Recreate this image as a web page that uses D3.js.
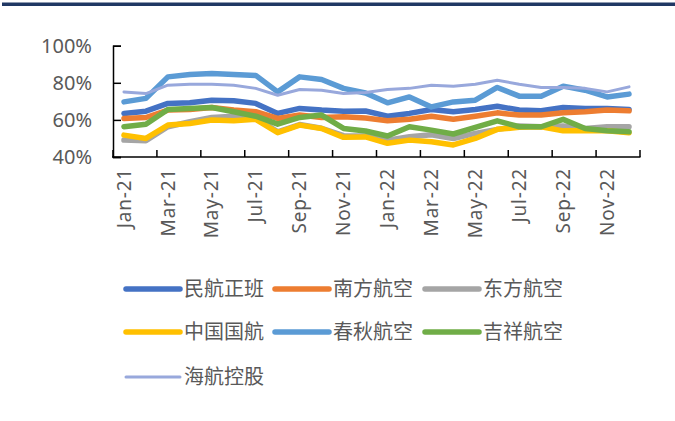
<!DOCTYPE html>
<html>
<head>
<meta charset="utf-8">
<script src="https://cdn.jsdelivr.net/npm/d3@7"></script>
<style>
  body { margin: 0; background: #fff; }
  svg { display: block; }
</style>
</head>
<body>
<div id="chart"></div>
<script>
// months shown on the x axis (every other one gets a label)
const months = ["Jan-21","Feb-21","Mar-21","Apr-21","May-21","Jun-21","Jul-21","Aug-21","Sep-21","Oct-21","Nov-21","Dec-21",
                "Jan-22","Feb-22","Mar-22","Apr-22","May-22","Jun-22","Jul-22","Aug-22","Sep-22","Oct-22","Nov-22","Dec-22"];
const yTicks = [40, 60, 80, 100];

// load factor, %
const minhang  = [63.5,64.7,68.9,69.2,70.6,70.3,68.9,63.5,66.2,65.3,64.7,64.8, 62.0,63.5,65.6,64.4,65.6,67.4,65.3,64.9,66.7,66.2,66.2,65.6];
const nanfang  = [60.8,61.3,65.3,65.6,66.7,65.3,64.4,60.8,62.6,61.3,61.7,61.0, 59.5,60.3,62.0,60.3,62.0,63.8,62.6,62.6,63.8,64.4,65.3,64.9];
const dongfang = [49.1,48.8,56.3,59.0,61.3,62.0,61.3,53.6,57.5,55.5,51.5,51.3, 49.1,50.9,52.0,50.0,52.7,54.9,56.7,56.3,56.7,55.4,56.3,56.3];
const guohang  = [51.8,50.0,57.2,58.1,59.9,59.5,60.3,53.1,57.2,55.4,50.6,50.8, 47.4,49.1,48.2,46.5,50.0,54.9,56.0,56.3,54.1,54.1,54.1,53.1];
const chunqiu  = [69.7,71.6,83.2,84.5,85.0,84.5,84.0,75.1,83.2,81.8,77.0,74.5, 69.2,72.4,67.0,69.7,70.6,77.5,72.8,72.8,78.2,76.0,72.4,73.9];
const jixiang  = [56.3,57.7,65.6,66.2,66.7,64.4,62.0,57.7,61.3,62.6,55.4,54.0, 51.3,56.3,54.5,52.4,56.0,59.5,56.3,56.3,60.3,55.4,54.1,53.6];
const hainan   = [75.1,74.2,78.7,79.2,79.2,78.7,77.0,73.3,76.4,76.0,74.2,74.8, 76.4,77.0,78.7,78.2,79.2,81.4,79.2,77.5,77.5,77.0,75.1,77.8];

const seriesNames = ["民航正班","南方航空","东方航空","中国国航","春秋航空","吉祥航空","海航控股"];
const seriesData = [minhang, nanfang, dongfang, guohang, chunqiu, jixiang, hainan];
const colors = ["#4472C4","#ED7D31","#A5A5A5","#FFC000","#5B9BD5","#70AD47","#98A8DC"];
const widths = [5.5,5.5,5.5,5.5,5.5,5.5,3];

const width = 675, height = 421;
const svg = d3.select("#chart").append("svg")
    .attr("width", width)
    .attr("height", height);

// dark band along the top
svg.append("rect")
    .attr("x", 2).attr("y", 2.5)
    .attr("width", width - 2).attr("height", 3.5)
    .attr("fill", "#203864");

const x = d3.scaleBand().domain(months).range([113, 640]);
const y = d3.scaleLinear().domain([40, 100]).range([157, 45.7]);

const textColor = "#595959";
const latinFont = "'Noto Sans', 'Liberation Sans', sans-serif";
const cjkFont = "'Noto Sans CJK SC', sans-serif";

// y axis, ticks pointing into the plot
const yAxis = svg.append("g")
    .attr("transform", "translate(113,0)")
    .call(d3.axisRight(y).tickValues(yTicks).tickSize(8).tickFormat(""));
yAxis.select(".domain").attr("stroke", "#000").attr("stroke-width", 1.5);
yAxis.selectAll(".tick line").attr("stroke", "#000").attr("stroke-width", 1.5);

svg.selectAll(".ylab")
    .data(yTicks)
    .join("text")
    .attr("class", "ylab")
    .attr("x", 92)
    .attr("y", d => y(d))
    .attr("dy", "0.35em")
    .attr("text-anchor", "end")
    .attr("fill", textColor)
    .style("font-family", latinFont)
    .style("font-size", "20px")
    .text(d => d + "%");

// x axis, tick at every second month boundary, pointing up
const tickPos = d3.range(0, months.length + 1, 2).map(i => 113 + i * x.bandwidth());
svg.append("line")
    .attr("x1", 112).attr("x2", 640.5)
    .attr("y1", y(40)).attr("y2", y(40))
    .attr("stroke", "#000").attr("stroke-width", 1.5);
svg.selectAll(".xtick")
    .data(tickPos)
    .join("line")
    .attr("class", "xtick")
    .attr("x1", d => d).attr("x2", d => d)
    .attr("y1", y(40) - 7).attr("y2", y(40))
    .attr("stroke", "#000").attr("stroke-width", 1.5);

const labelled = months.filter((m, i) => i % 2 === 0);
svg.selectAll(".xlab")
    .data(labelled)
    .join("text")
    .attr("class", "xlab")
    .attr("transform", d => `translate(${x(d) + x.bandwidth() / 2},168) rotate(-90)`)
    .attr("dy", "0.35em")
    .attr("text-anchor", "end")
    .attr("fill", textColor)
    .style("font-family", latinFont)
    .style("font-size", "19px")
    .style("letter-spacing", "0.8px")
    .text(d => d);

// series lines
const line = d3.line()
    .x((d, i) => x(months[i]) + x.bandwidth() / 2)
    .y(d => y(d));

seriesData.forEach((vals, k) => {
    svg.append("path")
        .datum(vals)
        .attr("d", line)
        .attr("fill", "none")
        .attr("stroke", colors[k])
        .attr("stroke-width", widths[k])
        .attr("stroke-linejoin", "round")
        .attr("stroke-linecap", "round");
});

// legend, three columns
const colX = [126, 275, 425];
const rowY = [289, 332, 377];
seriesNames.forEach((name, k) => {
    const cx = colX[k % 3], cy = rowY[Math.floor(k / 3)];
    svg.append("line")
        .attr("x1", cx).attr("x2", cx + 54)
        .attr("y1", cy).attr("y2", cy)
        .attr("stroke", colors[k])
        .attr("stroke-width", widths[k])
        .attr("stroke-linecap", "round");
    svg.append("text")
        .attr("x", cx + 58)
        .attr("y", cy)
        .attr("dy", "0.35em")
        .attr("fill", textColor)
        .style("font-family", cjkFont)
        .style("font-size", "20px")
        .text(name);
});
</script>
</body>
</html>
